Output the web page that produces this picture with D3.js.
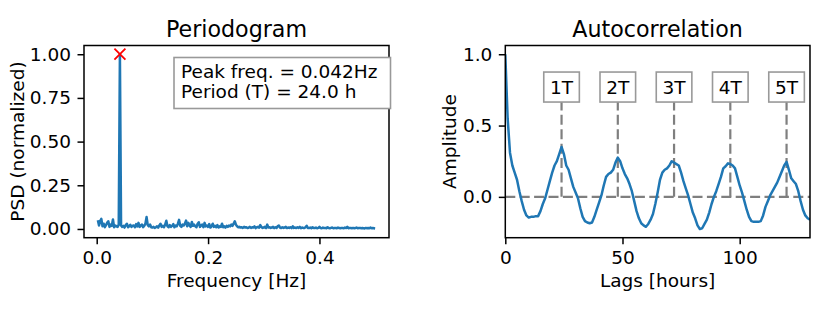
<!DOCTYPE html>
<html>
<head>
<meta charset="utf-8">
<script src="https://cdn.jsdelivr.net/npm/d3@7"></script>
<style>
  body { margin: 0; background: #fff; }
  svg { display: block; font-family: "DejaVu Sans", sans-serif; }
</style>
</head>
<body>
<svg id="chart" width="830" height="312"></svg>
<script>
// periodogram: N hourly samples, psd at k/N for k = 1..240
var nSamples = 480;
var psd = [
  0.050, 0.020, 0.045, 0.058, 0.015, 0.030, 0.010, 0.022, 0.035, 0.044,
  0.012, 0.025, 0.018, 0.054, 0.010, 0.020, 0.015, 0.012, 0.025, 1.000,
  0.020, 0.012, 0.018, 0.008, 0.022, 0.030, 0.010, 0.015, 0.024, 0.012,
  0.018, 0.020, 0.010, 0.028, 0.015, 0.035, 0.012, 0.020, 0.025, 0.010,
  0.018, 0.030, 0.068, 0.022, 0.015, 0.025, 0.010, 0.008, 0.012, 0.006,
  0.010, 0.015, 0.008, 0.020, 0.030, 0.012, 0.018, 0.010, 0.025, 0.047,
  0.015, 0.010, 0.022, 0.012, 0.018, 0.028, 0.010, 0.020, 0.015, 0.030,
  0.052, 0.018, 0.012, 0.025, 0.020, 0.030, 0.048, 0.015, 0.035, 0.020,
  0.012, 0.040, 0.018, 0.025, 0.015, 0.010, 0.030, 0.038, 0.012, 0.020,
  0.025, 0.010, 0.035, 0.015, 0.020, 0.012, 0.028, 0.008, 0.015, 0.030,
  0.012, 0.018, 0.010, 0.022, 0.008, 0.015, 0.012, 0.030, 0.010, 0.015,
  0.008, 0.018, 0.012, 0.020, 0.015, 0.025, 0.018, 0.030, 0.044, 0.025,
  0.015, 0.010, 0.012, 0.008, 0.010, 0.006, 0.012, 0.008, 0.010, 0.005,
  0.008, 0.012, 0.006, 0.010, 0.008, 0.015, 0.005, 0.010, 0.012, 0.008,
  0.022, 0.010, 0.006, 0.008, 0.012, 0.005, 0.025, 0.008, 0.010, 0.006,
  0.008, 0.012, 0.005, 0.010, 0.006, 0.015, 0.020, 0.008, 0.005, 0.010,
  0.006, 0.008, 0.012, 0.005, 0.008, 0.006, 0.010, 0.005, 0.015, 0.006,
  0.008, 0.005, 0.010, 0.006, 0.012, 0.004, 0.008, 0.006, 0.005, 0.010,
  0.018, 0.006, 0.005, 0.008, 0.004, 0.010, 0.006, 0.005, 0.008, 0.004,
  0.006, 0.012, 0.005, 0.004, 0.008, 0.005, 0.006, 0.004, 0.010, 0.005,
  0.004, 0.006, 0.008, 0.004, 0.005, 0.006, 0.004, 0.008, 0.005, 0.004,
  0.006, 0.005, 0.004, 0.008, 0.005, 0.012, 0.004, 0.006, 0.005, 0.004,
  0.006, 0.004, 0.005, 0.008, 0.004, 0.005, 0.006, 0.004, 0.005, 0.004,
  0.003, 0.006, 0.004, 0.005, 0.004, 0.008, 0.004, 0.005, 0.004, 0.003
];
var peakFreq = 1 / 24;
var peakText = ["Peak freq. = 0.042Hz", "Period (T) = 24.0 h"];

// autocorrelation for lags 0..130 hours
var acf = [
  1.00, 0.55, 0.31, 0.22, 0.17, 0.12, 0.04, -0.03, -0.09, -0.13,
  -0.145, -0.14, -0.14, -0.135, -0.135, -0.10, -0.05, -0.01, 0.05, 0.11,
  0.17, 0.22, 0.25, 0.30, 0.35, 0.30, 0.22, 0.19, 0.13, 0.07,
  0.03, -0.01, -0.08, -0.14, -0.17, -0.18, -0.185, -0.18, -0.14, -0.09,
  -0.04, 0.01, 0.08, 0.14, 0.16, 0.17, 0.19, 0.24, 0.275, 0.25,
  0.20, 0.16, 0.13, 0.09, 0.04, -0.03, -0.10, -0.15, -0.185, -0.20,
  -0.21, -0.19, -0.16, -0.12, -0.05, 0.03, 0.12, 0.17, 0.19, 0.20,
  0.22, 0.25, 0.24, 0.23, 0.22, 0.17, 0.11, 0.06, 0.01, -0.05,
  -0.11, -0.15, -0.20, -0.225, -0.22, -0.19, -0.16, -0.11, -0.05, 0.00,
  0.04, 0.09, 0.14, 0.20, 0.215, 0.235, 0.23, 0.22, 0.20, 0.14,
  0.08, 0.03, -0.03, -0.09, -0.14, -0.17, -0.175, -0.175, -0.175, -0.17,
  -0.13, -0.07, -0.03, 0.01, 0.04, 0.07, 0.10, 0.14, 0.18, 0.22,
  0.245, 0.19, 0.13, 0.11, 0.09, 0.04, -0.03, -0.09, -0.13, -0.15,
  -0.16
];
var periodLags = [24, 48, 72, 96, 120];
var periodLabels = ["1T", "2T", "3T", "4T", "5T"];
var labelLevel = 0.77;

var psdTicksX = [0, 0.2, 0.4];
var psdTicksY = [0, 0.25, 0.5, 0.75, 1.0];
var acfTicksX = [0, 50, 100];
var acfTicksY = [0, 0.5, 1.0];

var blue = "#1f77b4";
var fontSize = 18.5;
var svg = d3.select("#chart");

var psdData = psd.map(function(v, i) { return { f: (i + 1) / nSamples, v: v }; });

function pad(ext, frac) {
  var d = ext[1] - ext[0];
  return [ext[0] - d * frac, ext[1] + d * frac];
}

function frame(g, x, y, ticksX, ticksY, fmtX, fmtY) {
  var xr = x.range(), yr = y.range();
  g.append("g").attr("transform", "translate(0," + yr[0] + ")")
    .call(d3.axisBottom(x).tickValues(ticksX).tickFormat(fmtX).tickSize(6.5).tickPadding(6.5))
    .call(styleAxis);
  g.append("g").attr("transform", "translate(" + xr[0] + ",0)")
    .call(d3.axisLeft(y).tickValues(ticksY).tickFormat(fmtY).tickSize(6.5).tickPadding(6.5))
    .call(styleAxis);
  g.append("rect")
    .attr("x", xr[0]).attr("y", yr[1])
    .attr("width", xr[1] - xr[0]).attr("height", yr[0] - yr[1])
    .attr("fill", "none").attr("stroke", "#000").attr("stroke-width", 1.5);
}

function styleAxis(a) {
  a.select(".domain").remove();
  a.selectAll(".tick line").attr("stroke", "#000").attr("stroke-width", 1.5);
  a.selectAll(".tick text").attr("font-size", fontSize).attr("fill", "#000")
    .attr("font-family", "DejaVu Sans");
}

// ---------- Periodogram ----------
var g1 = svg.append("g");
var x1 = d3.scaleLinear().domain(pad(d3.extent(psdData, function(d) { return d.f; }), 0.05)).range([84, 389]);
var y1 = d3.scaleLinear().domain(pad([0, d3.max(psd)], 0.05)).range([237.7, 45.5]);

g1.append("clipPath").attr("id", "clip1").append("rect")
  .attr("x", 84).attr("y", 45.5).attr("width", 305).attr("height", 192.2);

g1.append("path").datum(psdData)
  .attr("clip-path", "url(#clip1)")
  .attr("fill", "none").attr("stroke", blue).attr("stroke-width", 2.5)
  .attr("stroke-linejoin", "round")
  .attr("d", d3.line().x(function(d) { return x1(d.f); }).y(function(d) { return y1(d.v); }));

// peak marker
var px = x1(peakFreq), py = y1(d3.max(psd)), m = 5.5;
g1.append("path")
  .attr("d", "M" + (px - m) + "," + (py - m) + "L" + (px + m) + "," + (py + m) +
             "M" + (px - m) + "," + (py + m) + "L" + (px + m) + "," + (py - m))
  .attr("stroke", "red").attr("stroke-width", 1.8);

frame(g1, x1, y1, psdTicksX, psdTicksY, d3.format(".1f"), d3.format(".2f"));

// info box
g1.append("rect").attr("x", 174).attr("y", 57.5).attr("width", 216.5).attr("height", 51)
  .attr("fill", "#fff").attr("stroke", "#999").attr("stroke-width", 1.6);
g1.selectAll(".info").data(peakText).enter().append("text")
  .attr("x", 181).attr("y", function(d, i) { return 78 + i * 20; })
  .attr("font-size", fontSize).text(function(d) { return d; });

g1.append("text").attr("x", 236.5).attr("y", 37).attr("text-anchor", "middle")
  .attr("font-size", 22.2).text("Periodogram");
g1.append("text").attr("x", 236.5).attr("y", 286.5).attr("text-anchor", "middle")
  .attr("font-size", fontSize).text("Frequency [Hz]");
g1.append("text").attr("transform", "translate(23.5,141.5) rotate(-90)")
  .attr("text-anchor", "middle").attr("font-size", fontSize).text("PSD (normalized)");

// ---------- Autocorrelation ----------
var g2 = svg.append("g");
var x2 = d3.scaleLinear().domain([0, 130]).range([505.3, 810]);
var y2 = d3.scaleLinear().domain(pad(d3.extent(acf), 0.05)).range([237.7, 45.5]);

g2.append("clipPath").attr("id", "clip2").append("rect")
  .attr("x", 505.3).attr("y", 45.5).attr("width", 304.7).attr("height", 192.2);

g2.append("line")
  .attr("x1", x2.range()[0]).attr("x2", x2.range()[1])
  .attr("y1", y2(0)).attr("y2", y2(0))
  .attr("stroke", "#7f7f7f").attr("stroke-width", 2.2).attr("stroke-dasharray", "10,4.4");

g2.selectAll(".vline").data(periodLags).enter().append("line")
  .attr("x1", function(d) { return x2(d); }).attr("x2", function(d) { return x2(d); })
  .attr("y1", y2(0)).attr("y2", y2(labelLevel))
  .attr("stroke", "#7f7f7f").attr("stroke-width", 2.2).attr("stroke-dasharray", "10,4.4");

g2.append("path").datum(acf)
  .attr("clip-path", "url(#clip2)")
  .attr("fill", "none").attr("stroke", blue).attr("stroke-width", 2.5)
  .attr("stroke-linejoin", "round")
  .attr("d", d3.line().x(function(d, i) { return x2(i); }).y(function(d) { return y2(d); }));

var lab = g2.selectAll(".lab").data(periodLags).enter().append("g")
  .attr("transform", function(d) { return "translate(" + x2(d) + "," + y2(labelLevel) + ")"; });
lab.append("rect").attr("x", -17.8).attr("y", -15).attr("width", 35.6).attr("height", 30)
  .attr("fill", "#fff").attr("stroke", "#999").attr("stroke-width", 1.6);
lab.append("text").attr("text-anchor", "middle").attr("y", 6.8)
  .attr("font-size", fontSize).text(function(d, i) { return periodLabels[i]; });

frame(g2, x2, y2, acfTicksX, acfTicksY, d3.format("d"), d3.format(".1f"));

g2.append("text").attr("x", 657.6).attr("y", 37).attr("text-anchor", "middle")
  .attr("font-size", 22.2).text("Autocorrelation");
g2.append("text").attr("x", 657.6).attr("y", 286.5).attr("text-anchor", "middle")
  .attr("font-size", fontSize).text("Lags [hours]");
g2.append("text").attr("transform", "translate(456,141.5) rotate(-90)")
  .attr("text-anchor", "middle").attr("font-size", fontSize).text("Amplitude");
</script>
</body>
</html>
